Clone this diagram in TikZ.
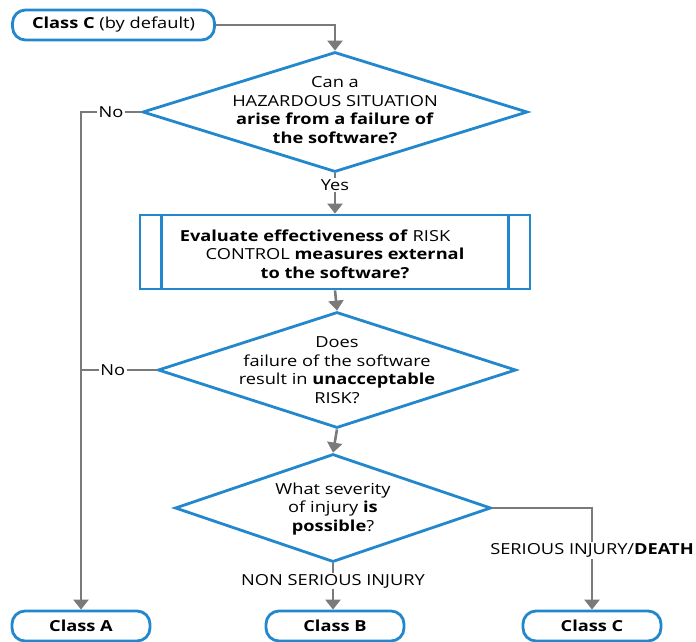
\documentclass[tikz,border=0pt]{standalone}
\usepackage{fontspec}
\setmainfont{Open Sans}[FakeStretch=1.2]
\usetikzlibrary{positioning, arrows.meta, shapes.geometric, calc}
\definecolor{flowblue}{HTML}{2287CC}
\definecolor{flowgray}{HTML}{7A7A7A}

\begin{document}
\begin{tikzpicture}[
    x=1pt, y=-1pt,
    font=\fontsize{15.2}{18.5}\selectfont,
    term/.style={draw=flowblue, line width=2.8pt, rounded corners=13pt, minimum height=30pt, fill=white, inner sep=0pt},
    decision/.style={draw=flowblue, diamond, line width=2.8pt, inner sep=0pt, fill=white},
    proc/.style={draw=flowblue, line width=2.8pt, minimum width=390pt, minimum height=74pt, align=center, inner sep=0pt},
    qtext/.style={align=center, inner sep=0pt},
    link/.style={draw=flowgray, line width=2.6pt},
    arrow/.style={link, -{Triangle[length=10pt, width=15pt]}},
    lbl/.style={fill=white, inner sep=1.5pt},
]
\useasboundingbox (0,0) rectangle (696,642);

\node[term, minimum width=202pt] (start) at (113.5,25) {\textbf{Class C} (by default)};

\node[decision, minimum width=385pt, minimum height=120pt,
      label={[qtext, yshift=2pt]center:Can a\\HAZARDOUS SITUATION\\\textbf{arise from a failure of}\\\textbf{the software?}}] (hazard) at (335,112) {};

\node[proc] (evaluate) at (335,252) {};
\node[qtext] (evaltext) at (335,254) {\textbf{Evaluate effectiveness of} RISK\hspace*{40pt}\\CONTROL \textbf{measures external}\\\textbf{to the software?}};
\draw[draw=flowblue, line width=2.8pt] ([xshift=23pt]evaluate.north west) -- ([xshift=23pt]evaluate.south west);
\draw[draw=flowblue, line width=2.8pt] ([xshift=-23pt]evaluate.north east) -- ([xshift=-23pt]evaluate.south east);

\node[decision, minimum width=358pt, minimum height=116pt,
      label={[qtext]center:Does\\failure of the software\\result in \textbf{unacceptable}\\RISK?}] (risk) at (337,370) {};

\node[decision, minimum width=316pt, minimum height=108pt,
      label={[qtext, yshift=-1pt]center:What severity\\of injury \textbf{is}\\\textbf{possible}?}] (severity) at (333,508) {};

\node[term, minimum width=138pt] (classa) at (81,626) {\textbf{Class A}};
\node[term, minimum width=138pt] (classb) at (335,626) {\textbf{Class B}};
\node[term, minimum width=138pt] (classc) at (592,626) {\textbf{Class C}};

\draw[arrow] (start.east) -| (hazard.north);
\draw[arrow] (hazard.south) -- node[lbl, pos=0.3] {Yes} (evaluate.north);
\draw[arrow] (evaluate.south) -- (risk.north);
\draw[arrow] (risk.south) -- (severity.north);

\draw[arrow] (hazard.west) -- node[lbl] {No} (hazard.west -| classa) -- (classa.north);
\draw[link] (risk.west) -- node[lbl, pos=0.58] {No} (risk.west -| classa);

\draw[arrow] (severity.south) -- node[lbl, pos=0.38] {NON SERIOUS INJURY} (severity.south |- classb.north);
\draw[arrow] (severity.east) -| node[lbl, pos=0.71] {SERIOUS INJURY/\textbf{DEATH}} (classc.north);

\end{tikzpicture}
\end{document}
